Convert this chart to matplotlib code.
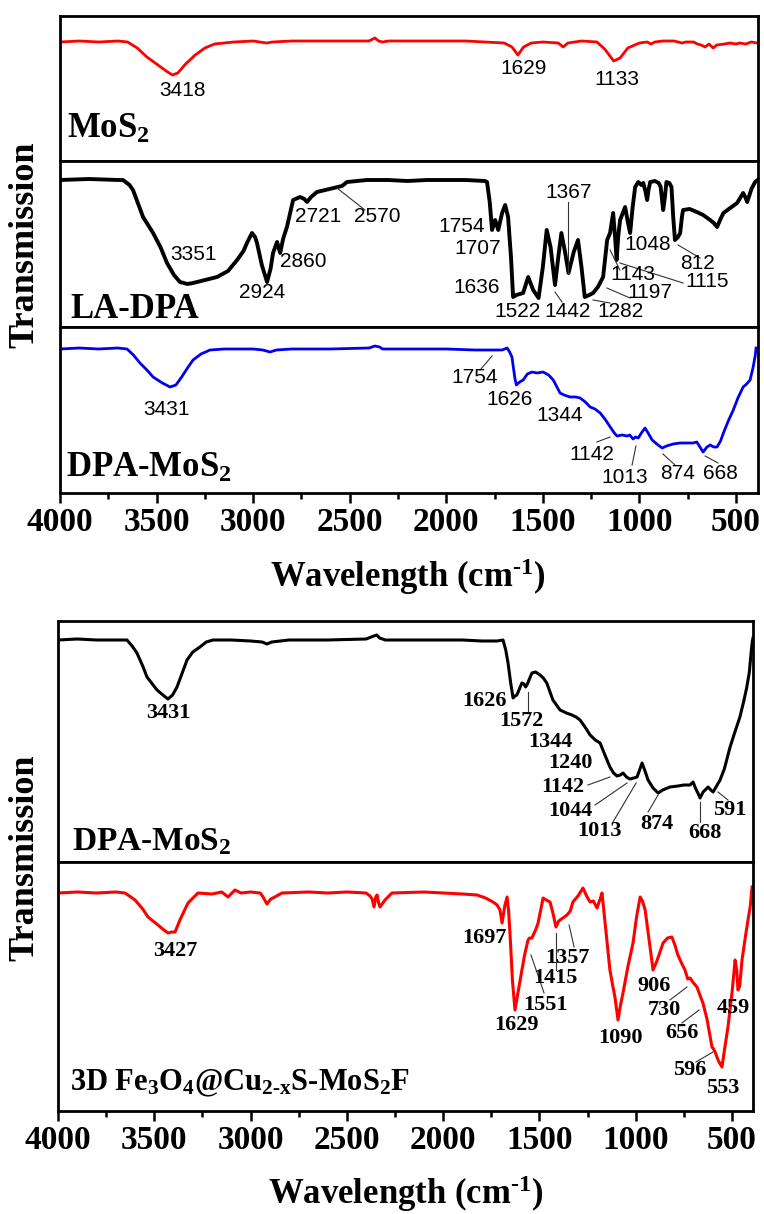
import matplotlib
matplotlib.use("Agg")
import matplotlib.pyplot as plt
from matplotlib.ticker import FixedLocator

plt.rcParams["font.family"] = "Liberation Serif"
plt.rcParams["font.weight"] = "bold"
plt.rcParams["mathtext.fontset"] = "custom"
plt.rcParams["mathtext.rm"] = "Liberation Serif:bold"
plt.rcParams["mathtext.it"] = "Liberation Serif:bold"
plt.rcParams["mathtext.bf"] = "Liberation Serif:bold"

# ---- spectra (wavenumber, transmission in arbitrary panel units) ----
mos2_wn = [4000, 3900, 3800, 3700, 3650, 3600, 3550, 3500, 3450, 3418, 3390, 3350, 3300, 3250,
           3200, 3100, 3000, 2930, 2900, 2800, 2600, 2400, 2370, 2350, 2330, 2300, 2100, 1900,
           1800, 1700, 1660, 1629, 1600, 1560, 1500, 1420, 1395, 1370, 1300, 1220, 1180, 1133,
           1100, 1060, 1000, 960, 940, 920, 880, 820, 780, 760, 720, 700, 680, 660, 640, 618,
           600, 560, 530, 500, 480, 450, 420, 390]
mos2_t = [119, 120, 119, 120, 119, 113, 104, 97, 90, 86, 88, 97, 106, 113,
          117, 119, 120, 118, 119, 120, 120, 120, 123, 120, 119, 120, 120, 120,
          119, 118, 114, 106, 114, 118, 119, 118, 114, 118, 120, 119, 112, 100,
          103, 113, 118, 119, 117, 119, 120, 120, 118, 119, 119, 117, 116, 114, 117, 113,
          116, 117, 118, 117, 118, 117, 119, 118]

ladpa_wn = [4000, 3850, 3700, 3674, 3640, 3622, 3570, 3518, 3480, 3446, 3410, 3379, 3340, 3311,
            3250, 3187, 3130, 3083, 3050, 3032, 3006, 2990, 2980, 2955, 2928, 2910, 2897, 2876,
            2866, 2860, 2845, 2825, 2793, 2757, 2735, 2721, 2700, 2670, 2584, 2540, 2514, 2411,
            2300, 2200, 2100, 2000, 1900, 1800, 1789, 1775, 1763, 1747, 1731, 1711, 1695, 1680,
            1665, 1654, 1637, 1602, 1576, 1550, 1522, 1500, 1480, 1460, 1437, 1420, 1404, 1385,
            1367, 1340, 1318, 1300, 1283, 1260, 1240, 1215, 1204, 1188, 1167, 1152, 1136, 1126,
            1118, 1110, 1100, 1074, 1060, 1048, 1035, 1022, 1006, 990, 980, 968, 960, 952, 944,
            920, 900, 890, 877, 868, 860, 845, 834, 825, 816, 800, 789, 780, 774, 740, 703, 670,
            634, 615, 598, 580, 565, 530, 494, 463, 452, 442, 420, 401, 388]
ladpa_t = [147, 148, 147, 147, 142, 137, 110, 94, 80, 64, 52, 45, 43, 44,
           47, 50, 56, 67, 76, 84, 94, 90, 84, 62, 45, 58, 74, 85,
           78, 74, 88, 100, 127, 130, 128, 125, 130, 135, 139, 141, 145, 147,
           147, 146, 147, 147, 147, 146, 145, 125, 97, 107, 97, 114, 122, 110,
           70, 30, 32, 34, 50, 37, 29, 60, 97, 80, 42, 70, 94, 75,
           54, 75, 87, 60, 30, 32, 34, 40, 44, 50, 87, 94, 114, 90,
           67, 90, 107, 120, 105, 94, 120, 140, 145, 142, 144, 135, 127, 138, 145,
           146, 144, 140, 117, 130, 145, 144, 140, 110, 87, 90, 94, 110, 117, 118, 115, 112,
           107, 104, 100, 108, 114, 119, 124, 134, 130, 125, 138, 145, 147]

dpa_wn = [4000, 3900, 3800, 3700, 3653, 3620, 3586, 3550, 3518, 3470, 3430, 3400, 3370, 3340,
          3311, 3270, 3223, 3150, 3000, 2950, 2912, 2880, 2800, 2600, 2400, 2370, 2345, 2330,
          2200, 2000, 1850, 1760, 1710, 1685, 1672, 1660, 1645, 1637, 1620, 1602, 1580, 1556,
          1530, 1499, 1470, 1446, 1411, 1390, 1360, 1330, 1307, 1280, 1255, 1230, 1203, 1175,
          1151, 1130, 1116, 1090, 1064, 1050, 1033, 1020, 1006, 990, 971, 955, 934, 910, 882,
          860, 825, 790, 750, 722, 703, 690, 670, 650, 634, 615, 598, 580, 565, 540, 514, 490,
          463, 445, 427, 411, 400, 396]
dpa_t = [144, 145, 144, 145, 144, 138, 130, 123, 116, 110, 106, 108, 116, 125,
         133, 139, 143, 144, 144, 143, 141, 143, 144, 144, 145, 147, 146, 144,
         144, 144, 143, 143, 143, 145, 141, 136, 115, 108, 111, 113, 119, 121,
         120, 121, 118, 113, 100, 98, 96, 96, 95, 91, 86, 84, 80, 73,
         66, 60, 57, 58, 57, 58, 54, 56, 55, 60, 65, 60, 53, 49, 45,
         47, 49, 50, 50, 50, 51, 47, 41, 46, 48, 46, 46, 52, 60, 72, 83, 95,
         106, 109, 113, 126, 138, 145]

dpa2_wn = [4000, 3900, 3800, 3700, 3642, 3615, 3590, 3560, 3538, 3510, 3486, 3455, 3429, 3405,
           3382, 3355, 3330, 3300, 3263, 3230, 3195, 3100, 3000, 2940, 2915, 2890, 2800, 2600,
           2400, 2360, 2344, 2330, 2300, 2100, 1900, 1800, 1720, 1689, 1675, 1663, 1650, 1637,
           1627, 1617, 1591, 1580, 1572, 1565, 1539, 1520, 1497, 1480, 1462, 1430, 1393, 1360,
           1331, 1310, 1289, 1260, 1237, 1210, 1185, 1160, 1134, 1115, 1097, 1080, 1066, 1048,
           1030, 1010, 993, 980, 967, 950, 936, 910, 884, 860, 822, 780, 750, 718, 702, 690,
           675, 666, 650, 624, 610, 598, 580, 562, 540, 510, 485, 459, 440, 423, 410, 401, 395, 391]
dpa2_t = [222, 223, 222, 222, 222, 216, 209, 196, 185, 178, 172, 167, 163, 167,
          175, 189, 202, 210, 215, 220, 222, 222, 221, 220, 218, 220, 222, 222,
          223, 226, 227, 224, 222, 222, 222, 221, 221, 222, 212, 199, 180, 164,
          166, 167, 179, 178, 175, 177, 189, 190, 187, 184, 179, 162, 152, 149,
          147, 145, 142, 134, 127, 122, 119, 107, 95, 89, 86, 87, 89, 85,
          83, 84, 85, 92, 99, 90, 82, 74, 69, 72, 75, 76, 77, 77, 80, 74,
          68, 64, 70, 75, 72, 70, 76, 82, 93, 115, 130, 145, 160, 175, 190, 209, 220, 224]

fe_wn = [4000, 3900, 3800, 3700, 3652, 3600, 3560, 3533, 3481, 3450, 3429, 3410, 3392, 3367,
         3345, 3325, 3273, 3200, 3150, 3117, 3081, 3050, 3000, 2950, 2935, 2915, 2895, 2884,
         2837, 2700, 2600, 2500, 2400, 2380, 2369, 2359, 2350, 2343, 2335, 2328, 2302, 2266,
         2100, 2001, 1900, 1824, 1780, 1741, 1720, 1705, 1694, 1680, 1668, 1660, 1653, 1640,
         1627, 1610, 1591, 1575, 1559, 1551, 1539, 1520, 1507, 1481, 1465, 1445, 1430, 1414,
         1400, 1378, 1357, 1340, 1326, 1300, 1274, 1255, 1237, 1220, 1201, 1185, 1175, 1160,
         1134, 1120, 1108, 1092, 1080, 1066, 1040, 1014, 995, 977, 965, 951, 930, 910, 890,
         858, 835, 812, 795, 781, 760, 744, 730, 718, 700, 682, 665, 651, 630, 604, 596, 588,
         570, 552, 540, 521, 500, 484, 475, 469, 460, 448, 430, 417, 405, 396]
fe_t = [218, 219, 218, 219, 218, 211, 202, 194, 186, 181, 178, 179, 179, 191,
        200, 208, 218, 217, 219, 214, 221, 218, 219, 218, 214, 207, 212, 213,
        218, 219, 218, 219, 218, 215, 212, 204, 214, 216, 208, 204, 211, 218,
        219, 218, 217, 216, 213, 209, 206, 201, 188, 205, 214, 200, 178, 130,
        101, 120, 141, 158, 171, 173, 173, 181, 188, 213, 211, 209, 198, 184,
        190, 193, 196, 200, 209, 215, 223, 215, 209, 210, 203, 212, 218, 190,
        141, 126, 114, 91, 105, 118, 145, 168, 195, 214, 210, 201, 170, 141, 150,
        168, 173, 174, 165, 156, 147, 141, 132, 133, 128, 124, 115, 108, 92, 64, 62, 59,
        50, 44, 60, 84, 118, 151, 140, 121, 125, 151, 175, 191, 205, 224]

# ---- peak labels: text, text x, text y, optional leader (x0, y0, x1, y1) ----
mos2_peaks = [("3418", 3368, 71, None), ("1629", 1602, 93, None), ("1133", 1115, 82, None)]

ladpa_peaks = [("3351", 3311, 72, None), ("2924", 2954, 34, None), ("2860", 2741, 65, None),
               ("2721", 2664, 110, None), ("2570", 2359, 110, (2566, 139, 2421, 117)),
               ("1754", 1918, 100, None), ("1707", 1835, 79, None),
               ("1367", 1364, 134, (1370, 125, 1370, 54)), ("1636", 1841, 39, None),
               ("1522", 1633, 15, None), ("1442", 1374, 15, (1437, 35, 1401, 25)),
               ("1282", 1100, 15, (1240, 27, 1152, 24)), ("1197", 944, 34, (1168, 39, 1049, 29)),
               ("1143", 1033, 52, (1152, 77, 1101, 57)), ("1115", 650, 45, (1101, 64, 774, 44)),
               ("1048", 955, 82, None), ("812", 701, 63, (800, 82, 686, 69))]

dpa_peaks = [("3431", 3446, 84, None), ("1754", 1851, 116, (1825, 123, 1763, 137)),
             ("1626", 1670, 94, None), ("1344", 1411, 78, None),
             ("1142", 1245, 39, (1220, 51, 1152, 56)), ("1013", 1074, 16, (1038, 28, 1018, 47)),
             ("874", 805, 20, (878, 39, 816, 28)), ("668", 582, 20, (660, 37, 593, 30))]

dpa2_peaks = [("3431", 3429, 149, None), ("1626", 1783, 161, None),
              ("1572", 1591, 141, (1559, 170, 1559, 150)), ("1344", 1445, 120, None),
              ("1240", 1341, 99, None), ("1142", 1378, 75, (1248, 77, 1134, 85)),
              ("1044", 1341, 51, (1211, 57, 1045, 79)), ("1013", 1186, 31, (1118, 40, 998, 79)),
              ("874", 890, 38, (936, 50, 884, 67)), ("668", 640, 29, (666, 40, 666, 60)),
              ("591", 510, 52, (521, 62, 573, 70))]

fe_peaks = [("3427", 3392, 160, None), ("1697", 1783, 173, None), ("1629", 1617, 86, None),
            ("1551", 1471, 106, (1544, 156, 1476, 118)), ("1415", 1419, 133, (1414, 178, 1414, 141)),
            ("1357", 1352, 153, (1346, 186, 1320, 164)), ("1090", 1081, 73, None),
            ("906", 905, 125, None), ("730", 853, 101, (822, 111, 734, 124)),
            ("656", 760, 78, (760, 88, 671, 101)), ("459", 495, 103, None),
            ("596", 718, 41, (687, 49, 599, 59)), ("553", 547, 23, None)]

major_ticks = [4000, 3500, 3000, 2500, 2000, 1500, 1000, 500]
minor_ticks = [3750, 3250, 2750, 2250, 1750, 1250, 750]

W, H = 764, 1214
fig = plt.figure(figsize=(W / 100, H / 100), dpi=100)


def panel(left_px, right_px, top_px, bottom_px, xmax, xmin):
    ax = fig.add_axes([left_px / W, 1 - bottom_px / H,
                       (right_px - left_px) / W, (bottom_px - top_px) / H])
    ax.set_xlim(xmax, xmin)
    ax.set_ylim(0, bottom_px - top_px)
    ax.set_yticks([])
    for s in ax.spines.values():
        s.set_linewidth(2.0)
    ax.tick_params(axis="x", which="both", bottom=False, labelbottom=False)
    return ax


def bottom_ticks(ax):
    ax.xaxis.set_major_locator(FixedLocator(major_ticks))
    ax.xaxis.set_minor_locator(FixedLocator(minor_ticks))
    ax.tick_params(axis="x", which="both", bottom=True, labelbottom=True, direction="out", width=1.8)
    ax.tick_params(axis="x", which="major", length=7, pad=3, labelsize=24)
    ax.tick_params(axis="x", which="minor", length=4.5)


def label_peaks(ax, peaks, **font):
    for txt, x, y, lead in peaks:
        ax.text(x, y, txt, ha="center", va="center", **font)
        if lead is not None:
            ax.plot([lead[0], lead[2]], [lead[1], lead[3]], color="#333333", lw=0.8)


sans = dict(fontfamily="Liberation Sans", fontweight="normal", fontsize=15)
serif = dict(fontfamily="Liberation Serif", fontweight="bold", fontsize=16)

# upper figure: MoS2 / LA-DPA / DPA-MoS2
ax1 = panel(60, 758, 16, 161, 4000, 386)
ax1.plot(mos2_wn, mos2_t, color="#ff0000", lw=2.0)
label_peaks(ax1, mos2_peaks, **sans)
ax1.text(3962, 23, "MoS$_2$", fontsize=25, ha="left", va="baseline")

ax2 = panel(60, 758, 161, 327, 4000, 386)
ax2.plot(ladpa_wn, ladpa_t, color="black", lw=2.8)
label_peaks(ax2, ladpa_peaks, **sans)
ax2.text(3948, 9, "LA-DPA", fontsize=25, ha="left", va="baseline")

ax3 = panel(60, 758, 327, 493, 4000, 386)
ax3.plot(dpa_wn, dpa_t, color="#0000ee", lw=2.0)
label_peaks(ax3, dpa_peaks, **sans)
ax3.text(3968, 16, "DPA-MoS$_2$", fontsize=25, ha="left", va="baseline")
bottom_ticks(ax3)

# lower figure: DPA-MoS2 / composite
ax4 = panel(58, 753, 621, 862, 4000, 391)
ax4.plot(dpa2_wn, dpa2_t, color="black", lw=2.2)
label_peaks(ax4, dpa2_peaks, **serif)
ax4.text(3927, 12, "DPA-MoS$_2$", fontsize=24, ha="left", va="baseline")

ax5 = panel(58, 753, 862, 1111, 4000, 391)
ax5.plot(fe_wn, fe_t, color="#ff0000", lw=2.2)
label_peaks(ax5, fe_peaks, **serif)
ax5.text(3938, 21, r"3D Fe$_3$O$_4$@Cu$_{\text{2-x}}$S-MoS$_2$F",
         fontsize=22, ha="left", va="baseline")
bottom_ticks(ax5)

xlab = r"Wavelength (cm$^{\text{-1}}$)"
fig.text(408 / W, 1 - 587 / H, xlab, fontsize=25, ha="center", va="baseline")
fig.text(406 / W, 1 - 1204 / H, xlab, fontsize=25, ha="center", va="baseline")
fig.text(25 / W, 1 - 245 / H, "Transmission", fontsize=26, rotation=90, ha="center", va="center")
fig.text(25 / W, 1 - 858 / H, "Transmission", fontsize=26, rotation=90, ha="center", va="center")

fig.savefig("out.png", dpi=100)
